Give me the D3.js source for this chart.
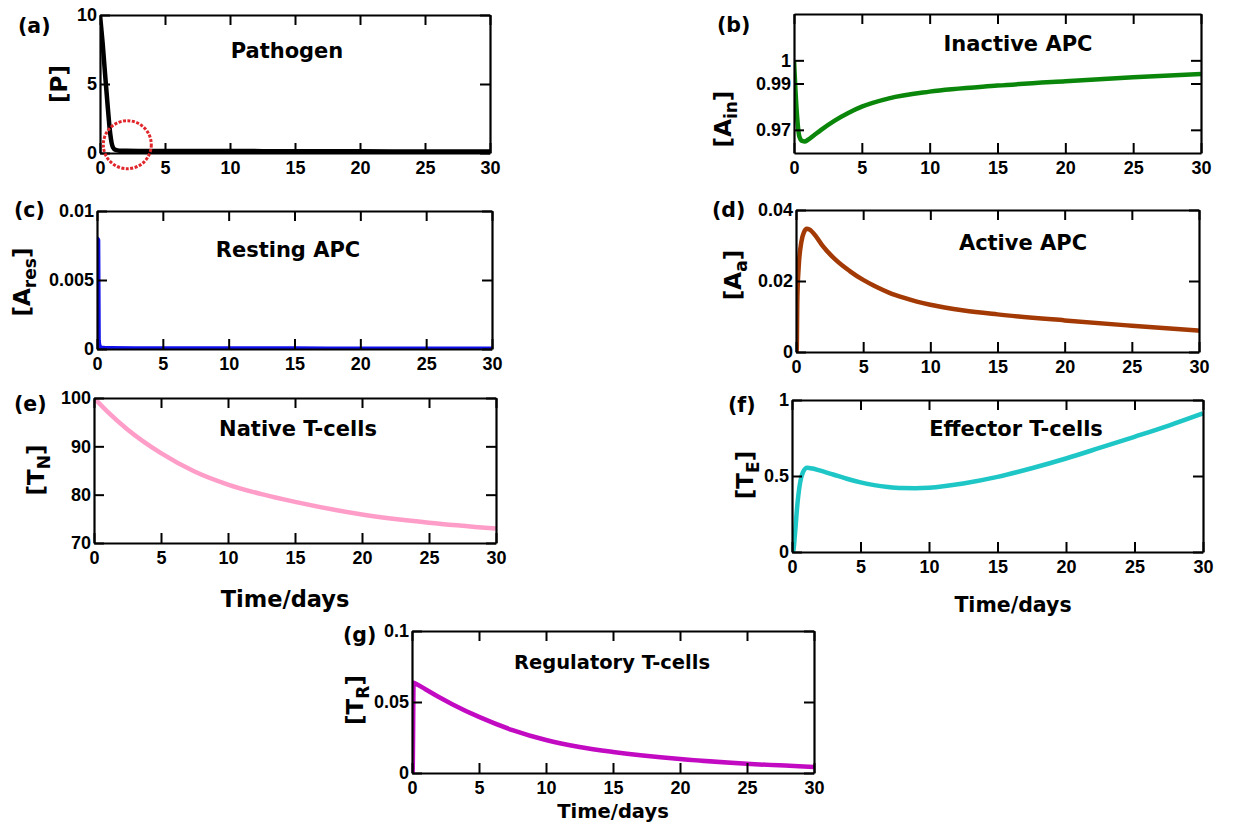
<!DOCTYPE html>
<html>
<head>
<meta charset="utf-8">
<script src="https://cdn.jsdelivr.net/npm/d3@7"></script>
<style>
  body { margin: 0; background: #fff; }
  svg { display: block; }
  .tick text { font-family: "Liberation Sans", Arial, sans-serif; font-weight: bold; fill: #000; }
  .lbl { font-family: "DejaVu Sans", sans-serif; font-weight: bold; fill: #000; }
</style>
</head>
<body>
<div id="chart"></div>
<script>
// time points (days) and values
const pathogenT = [0, 0.2, 0.4, 0.6, 0.7, 0.8, 0.9, 1.0, 1.2, 1.5, 2, 3, 5, 10, 15, 20, 25, 30];
const pathogenP = [10, 8.0, 5.6, 3.3, 2.2, 1.3, 0.7, 0.4, 0.22, 0.17, 0.16, 0.15, 0.15, 0.14, 0.13, 0.12, 0.11, 0.1];

const inactiveT = [0, 0.2, 0.4, 0.6, 0.8, 1.0, 1.5, 2, 3, 4, 5, 7, 10, 15, 20, 25, 30];
const inactiveA = [1.0, 0.978, 0.967, 0.9652, 0.965, 0.9656, 0.9678, 0.970, 0.974, 0.9773, 0.980, 0.9836, 0.9865, 0.9891, 0.991, 0.9927, 0.9941];

const restingT = [0, 0.08, 0.12, 0.2, 0.3, 1, 5, 10, 15, 20, 25, 30];
const restingA = [0.008, 0.0079, 0.0006, 0.0002, 0.0001, 0.00005, 0.00004, 0.00003, 0.00003, 0.00002, 0.00002, 0.00002];

const activeT = [0, 0.05, 0.1, 0.2, 0.4, 0.6, 0.8, 1.0, 1.5, 2, 3, 4, 5, 6, 7, 8, 9, 10, 12.5, 15, 20, 25, 30];
const activeA = [0, 0, 0.015, 0.024, 0.031, 0.0338, 0.0347, 0.0345, 0.0325, 0.0298, 0.0258, 0.0228, 0.0203, 0.0183, 0.0166, 0.0153, 0.0142, 0.0133, 0.0117, 0.0106, 0.0089, 0.0074, 0.006];

const nativeT = [0, 1, 2.5, 5, 7.5, 10, 12.5, 15, 20, 25, 30];
const nativeN = [100, 97.2, 93.5, 88.6, 84.8, 82.1, 80.1, 78.5, 75.9, 74.2, 73.0];

const effectorT = [0, 0.1, 0.2, 0.4, 0.6, 0.8, 1.1, 1.5, 2, 3, 4, 5, 6, 7, 8, 9, 10, 12.5, 15, 17.5, 20, 22.5, 25, 27.5, 30];
const effectorE = [0, 0.01, 0.1, 0.32, 0.46, 0.525, 0.554, 0.549, 0.537, 0.51, 0.482, 0.458, 0.44, 0.428, 0.421, 0.42, 0.423, 0.451, 0.494, 0.551, 0.615, 0.686, 0.758, 0.832, 0.912];

const regulatoryT = [0, 0.05, 0.12, 0.3, 1, 2, 3, 5, 7.5, 10, 12.5, 15, 20, 25, 30];
const regulatoryR = [0, 0.001, 0.0635, 0.0628, 0.059, 0.0535, 0.0485, 0.0395, 0.0302, 0.0232, 0.0183, 0.0148, 0.0098, 0.0065, 0.0043];

const xTicks = [0, 5, 10, 15, 20, 25, 30];

const panels = [
  { tag: "(a)", title: "Pathogen", name: "P", sub: "", t: pathogenT, v: pathogenP,
    yDomain: [0, 10], yTicks: [0, 5, 10], color: "#000000",
    box: [100, 15, 490, 153], tagPos: [18, 33], yLabPos: [67, 84], titlePos: [287, 58], fs: 21 },
  { tag: "(b)", title: "Inactive APC", name: "A", sub: "in", t: inactiveT, v: inactiveA,
    yDomain: [0.96, 1.02], yTicks: [0.97, 0.99, 1], color: "#0a870a",
    box: [794, 14, 1201, 153], tagPos: [717, 32], yLabPos: [731, 119], titlePos: [1018, 51], fs: 21 },
  { tag: "(c)", title: "Resting APC", name: "A", sub: "res", t: restingT, v: restingA,
    yDomain: [0, 0.01], yTicks: [0, 0.005, 0.01], color: "#1010ee",
    box: [97, 211, 492, 349], tagPos: [14, 217], yLabPos: [30, 282], titlePos: [288, 257], fs: 21 },
  { tag: "(d)", title: "Active APC", name: "A", sub: "a", t: activeT, v: activeA,
    yDomain: [0, 0.04], yTicks: [0, 0.02, 0.04], color: "#a33a05",
    box: [796, 210, 1199, 352], tagPos: [712, 217], yLabPos: [741, 275], titlePos: [1023, 250], fs: 21 },
  { tag: "(e)", title: "Native T-cells", name: "T", sub: "N", t: nativeT, v: nativeN,
    yDomain: [70, 100], yTicks: [70, 80, 90, 100], color: "#ff9dc9",
    box: [94, 398, 496, 543], tagPos: [14, 411], yLabPos: [44, 470], titlePos: [298, 436], fs: 21,
    xLab: [285, 607, 22.5] },
  { tag: "(f)", title: "Effector T-cells", name: "T", sub: "E", t: effectorT, v: effectorE,
    yDomain: [0, 1], yTicks: [0, 0.5, 1], color: "#1ec6c6",
    box: [792, 400, 1203, 552], tagPos: [728, 412], yLabPos: [753, 475], titlePos: [1016, 436], fs: 21,
    xLab: [1013, 612, 20.5] },
  { tag: "(g)", title: "Regulatory T-cells", name: "T", sub: "R", t: regulatoryT, v: regulatoryR,
    yDomain: [0, 0.1], yTicks: [0, 0.05, 0.1], color: "#c20ac2",
    box: [412, 631, 814, 773], tagPos: [343, 642], yLabPos: [363, 700], titlePos: [612, 669], fs: 19.5,
    xLab: [613, 818, 19.5] }
];

// dashed red circle marking the tail of the pathogen curve (in data units of panel a)
const circleMark = { t: 2.1, v: 0.6, r: 24 };

const svg = d3.select("#chart").append("svg")
  .attr("width", 1256)
  .attr("height", 827);

const fmt = d3.format("~g");

panels.forEach((p, i) => {
  const [x0, y0, x1, y1] = p.box;
  const x = d3.scaleLinear().domain([0, 30]).range([x0, x1]);
  const y = d3.scaleLinear().domain(p.yDomain).range([y1, y0]);
  const g = svg.append("g");

  svg.append("clipPath").attr("id", "clip" + i)
    .append("rect").attr("x", x0).attr("y", y0).attr("width", x1 - x0).attr("height", y1 - y0);

  // the curve
  const pts = p.t.map((t, k) => [t, p.v[k]]);
  g.append("path")
    .datum(pts)
    .attr("clip-path", "url(#clip" + i + ")")
    .attr("fill", "none")
    .attr("stroke", p.color)
    .attr("stroke-width", 4.5)
    .attr("stroke-linejoin", "round")
    .attr("d", d3.line().x(d => x(d[0])).y(d => y(d[1])).curve(d3.curveMonotoneX));

  // axes on all four sides, ticks pointing in
  const styleAxis = sel => {
    sel.select(".domain").attr("stroke", "#000").attr("stroke-width", 2.2);
    sel.selectAll(".tick line").attr("stroke", "#000").attr("stroke-width", 2);
  };
  g.append("g").attr("transform", `translate(0,${y1})`)
    .call(d3.axisBottom(x).tickValues(xTicks).tickSizeInner(-10).tickSizeOuter(0).tickPadding(8).tickFormat(fmt))
    .call(styleAxis)
    .selectAll("text").attr("font-size", 18);
  g.append("g").attr("transform", `translate(0,${y0})`)
    .call(d3.axisTop(x).tickValues(xTicks).tickSizeInner(-10).tickSizeOuter(0).tickFormat(""))
    .call(styleAxis);
  g.append("g").attr("transform", `translate(${x0},0)`)
    .call(d3.axisLeft(y).tickValues(p.yTicks).tickSizeInner(-10).tickSizeOuter(0).tickPadding(3).tickFormat(fmt))
    .call(styleAxis)
    .selectAll("text").attr("font-size", 18);
  g.append("g").attr("transform", `translate(${x1},0)`)
    .call(d3.axisRight(y).tickValues(p.yTicks).tickSizeInner(-10).tickSizeOuter(0).tickFormat(""))
    .call(styleAxis);

  // panel tag and title
  g.append("text").attr("class", "lbl")
    .attr("x", p.tagPos[0]).attr("y", p.tagPos[1])
    .attr("font-size", 20.5).text(p.tag);
  g.append("text").attr("class", "lbl")
    .attr("x", p.titlePos[0]).attr("y", p.titlePos[1])
    .attr("text-anchor", "middle")
    .attr("font-size", p.fs).text(p.title);

  // y label like [A_in]
  const yl = g.append("text").attr("class", "lbl")
    .attr("text-anchor", "middle")
    .attr("font-size", 23)
    .attr("transform", `translate(${p.yLabPos[0]},${p.yLabPos[1]}) rotate(-90)`);
  if (p.sub) {
    yl.append("tspan").text("[" + p.name);
    yl.append("tspan").attr("font-size", 17).attr("dy", 6).text(p.sub);
    yl.append("tspan").attr("dy", -6).text("]");
  } else {
    yl.text("[" + p.name + "]");
  }

  if (p.xLab) {
    g.append("text").attr("class", "lbl")
      .attr("x", p.xLab[0]).attr("y", p.xLab[1])
      .attr("text-anchor", "middle")
      .attr("font-size", p.xLab[2]).text("Time/days");
  }

  if (i === 0) {
    g.append("circle")
      .attr("cx", x(circleMark.t)).attr("cy", y(circleMark.v)).attr("r", circleMark.r)
      .attr("fill", "none").attr("stroke", "#e0262a")
      .attr("stroke-width", 3).attr("stroke-dasharray", "3,1.5");
  }
});
</script>
</body>
</html>
